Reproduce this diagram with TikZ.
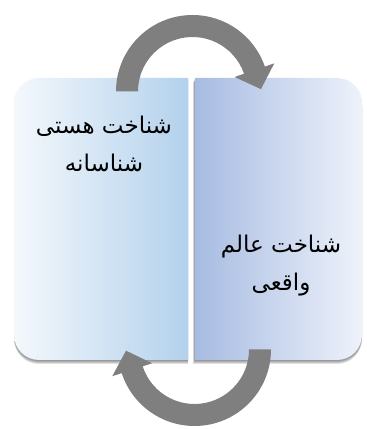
\documentclass[tikz,border=0pt]{standalone}
\usepackage{fontspec}
\newfontfamily\arabicfont[Script=Arabic]{DejaVu Sans}
\TeXXeTstate=1
\definecolor{lpanelL}{HTML}{F4F8FC}
\definecolor{lpanelR}{HTML}{B3D1EC}
\definecolor{rpanelL}{HTML}{A7BCE2}
\definecolor{rpanelR}{HTML}{EEF2FA}
\definecolor{arrowgray}{HTML}{7F7F7F}
\begin{document}
\begin{tikzpicture}[x=1pt,y=1pt,
  ptext/.style={align=center,text=black,font=\arabicfont\fontsize{23}{38}\selectfont},
  shadowfill/.style={fill=black,opacity=0.12},
  arrowfill/.style={fill=arrowgray}]
\useasboundingbox (0,0) rectangle (367,429);
% shadows
\foreach \d in {1,2,3,4}{
  \fill[shadowfill] ([yshift=-\d]188,351) -- ([yshift=-\d]188,69) -- ([yshift=-\d]39,69) arc[start angle=270,end angle=180,radius=25] -- ([yshift=-\d]14,326) arc[start angle=180,end angle=90,radius=25] -- cycle;
  \fill[shadowfill] ([yshift=-\d,xshift=-\d/2]195,351) -- ([yshift=-\d]337,351) arc[start angle=90,end angle=0,radius=25] -- ([yshift=-\d]362,94) arc[start angle=0,end angle=-90,radius=25] -- ([yshift=-\d,xshift=-\d/2]195,69) -- cycle;
}
% left panel
\shade[left color=lpanelL,right color=lpanelR] (188,351) -- (188,69) -- (39,69) arc[start angle=270,end angle=180,radius=25] -- (14,326) arc[start angle=180,end angle=90,radius=25] -- cycle;
% right panel
\shade[left color=rpanelL,right color=rpanelR] (195,351) -- (337,351) arc[start angle=90,end angle=0,radius=25] -- (362,94) arc[start angle=0,end angle=-90,radius=25] -- (195,69) -- cycle;
% top arrow
\begin{scope}[shift={(192.5,337.5)}]
  \fill[arrowfill] (180:76.5) arc[start angle=180,end angle=19,radius=76.5] -- (19:86.5) -- (2:68.5) -- (19:44.5) -- (19:54.5) arc[start angle=19,end angle=180,radius=54.5] -- cycle;
\end{scope}
% bottom arrow
\begin{scope}[shift={(194.5,79.5)}]
  \fill[arrowfill] (0:76.5) arc[start angle=0,end angle=-162,radius=76.5] -- (-162:86.5) -- (-179:68.5) -- (-162:44.5) -- (-162:54.5) arc[start angle=-162,end angle=0,radius=54.5] -- cycle;
\end{scope}
% texts
\node[ptext] (lefttext) at (104,285) {\beginR شناخت هستی\endR\\\beginR شناسانه\endR};
\node[ptext] (righttext) at (281,163) {\beginR شناخت عالم\endR\\\beginR واقعی\endR};
\end{tikzpicture}
\end{document}
